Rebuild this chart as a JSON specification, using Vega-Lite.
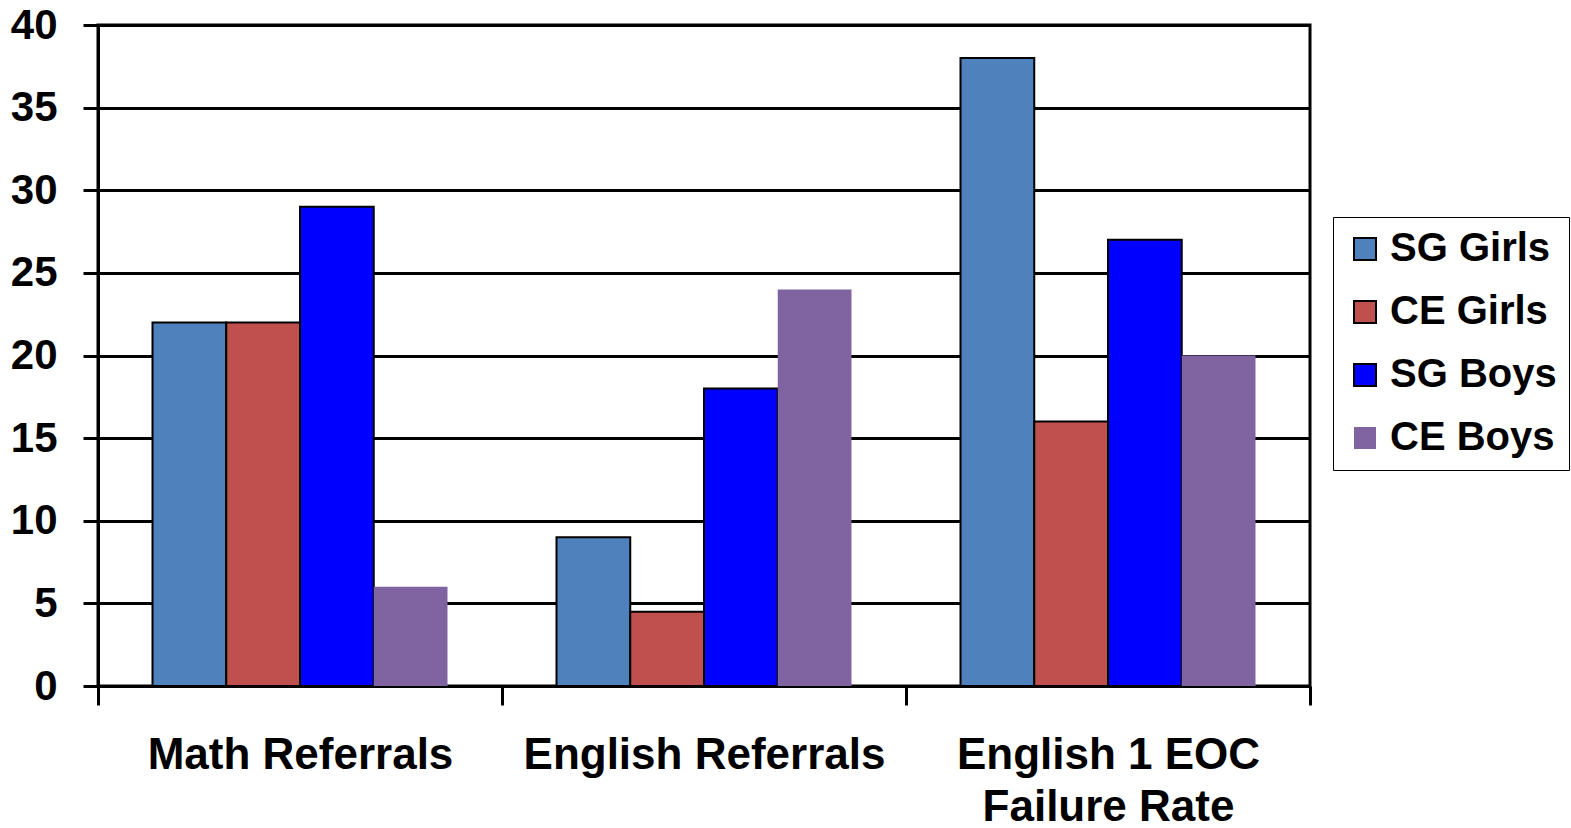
{
  "$schema": "https://vega.github.io/schema/vega-lite/v6.json",
  "autosize": {"type": "none"},
  "width": 1212,
  "height": 661,
  "padding": {"left": 98, "top": 25, "right": 261, "bottom": 142},
  "background": "white",
  "config": {
    "view": {"stroke": "black", "strokeWidth": 3},
    "font": "Liberation Sans"
  },
  "data": {
    "values": [
      {"category": "Math Referrals", "series": "SG Girls", "value": 22},
      {"category": "Math Referrals", "series": "CE Girls", "value": 22},
      {"category": "Math Referrals", "series": "SG Boys", "value": 29},
      {"category": "Math Referrals", "series": "CE Boys", "value": 6},
      {"category": "English Referrals", "series": "SG Girls", "value": 9},
      {"category": "English Referrals", "series": "CE Girls", "value": 4.5},
      {"category": "English Referrals", "series": "SG Boys", "value": 18},
      {"category": "English Referrals", "series": "CE Boys", "value": 24},
      {"category": "English 1 EOC Failure Rate", "series": "SG Girls", "value": 38},
      {"category": "English 1 EOC Failure Rate", "series": "CE Girls", "value": 16},
      {"category": "English 1 EOC Failure Rate", "series": "SG Boys", "value": 27},
      {"category": "English 1 EOC Failure Rate", "series": "CE Boys", "value": 20}
    ]
  },
  "mark": {"type": "bar", "strokeWidth": 2},
  "encoding": {
    "x": {
      "field": "category",
      "type": "nominal",
      "sort": null,
      "scale": {"paddingInner": 0, "paddingOuter": 0},
      "axis": {
        "title": null,
        "labelAngle": 0,
        "labelFontSize": 44,
        "labelFontWeight": "bold",
        "labelColor": "black",
        "labelBaseline": "top",
        "labelPadding": 28,
        "labelLineHeight": 52,
        "labelLimit": 600,
        "labelExpr": "datum.label == 'English 1 EOC Failure Rate' ? ['English 1 EOC', 'Failure Rate'] : datum.label",
        "tickBand": "extent",
        "tickSize": 19,
        "tickWidth": 3,
        "tickColor": "black",
        "domainColor": "black",
        "domainWidth": 3,
        "grid": false
      }
    },
    "xOffset": {
      "field": "series",
      "type": "nominal",
      "sort": ["SG Girls", "CE Girls", "SG Boys", "CE Boys"],
      "scale": {"paddingInner": 0, "paddingOuter": 0.739}
    },
    "y": {
      "field": "value",
      "type": "quantitative",
      "scale": {"domain": [0, 40], "nice": false},
      "axis": {
        "title": null,
        "values": [0, 5, 10, 15, 20, 25, 30, 35, 40],
        "labelFontSize": 42,
        "labelFontWeight": "bold",
        "labelColor": "black",
        "labelPadding": 26,
        "tickSize": 15,
        "tickWidth": 3,
        "tickColor": "black",
        "domainColor": "black",
        "domainWidth": 3,
        "grid": true,
        "gridColor": "black",
        "gridWidth": 3,
        "gridOpacity": 1
      }
    },
    "color": {
      "field": "series",
      "type": "nominal",
      "sort": ["SG Girls", "CE Girls", "SG Boys", "CE Boys"],
      "scale": {
        "domain": ["SG Girls", "CE Girls", "SG Boys", "CE Boys"],
        "range": ["#4F81BD", "#C0504D", "#0000FF", "#8064A2"]
      },
      "legend": {
        "title": null,
        "orient": "none",
        "legendX": 1235,
        "legendY": 192,
        "padding": 12,
        "strokeColor": "black",
        "fillColor": "white",
        "symbolType": "square",
        "symbolSize": 484,
        "symbolStrokeWidth": 2,
        "symbolOpacity": 1,
        "labelFontSize": 40,
        "labelFontWeight": "bold",
        "labelColor": "black",
        "labelLimit": 400,
        "rowPadding": 23,
        "labelOffset": 5
      }
    },
    "stroke": {
      "field": "series",
      "type": "nominal",
      "sort": ["SG Girls", "CE Girls", "SG Boys", "CE Boys"],
      "scale": {
        "domain": ["SG Girls", "CE Girls", "SG Boys", "CE Boys"],
        "range": ["black", "black", "black", "transparent"]
      },
      "legend": {
        "title": null,
        "orient": "none",
        "legendX": 1235,
        "legendY": 192,
        "padding": 12,
        "strokeColor": "black",
        "fillColor": "white",
        "symbolType": "square",
        "symbolSize": 484,
        "symbolStrokeWidth": 2,
        "symbolOpacity": 1,
        "labelFontSize": 40,
        "labelFontWeight": "bold",
        "labelColor": "black",
        "labelLimit": 400,
        "rowPadding": 23,
        "labelOffset": 5
      }
    }
  }
}
